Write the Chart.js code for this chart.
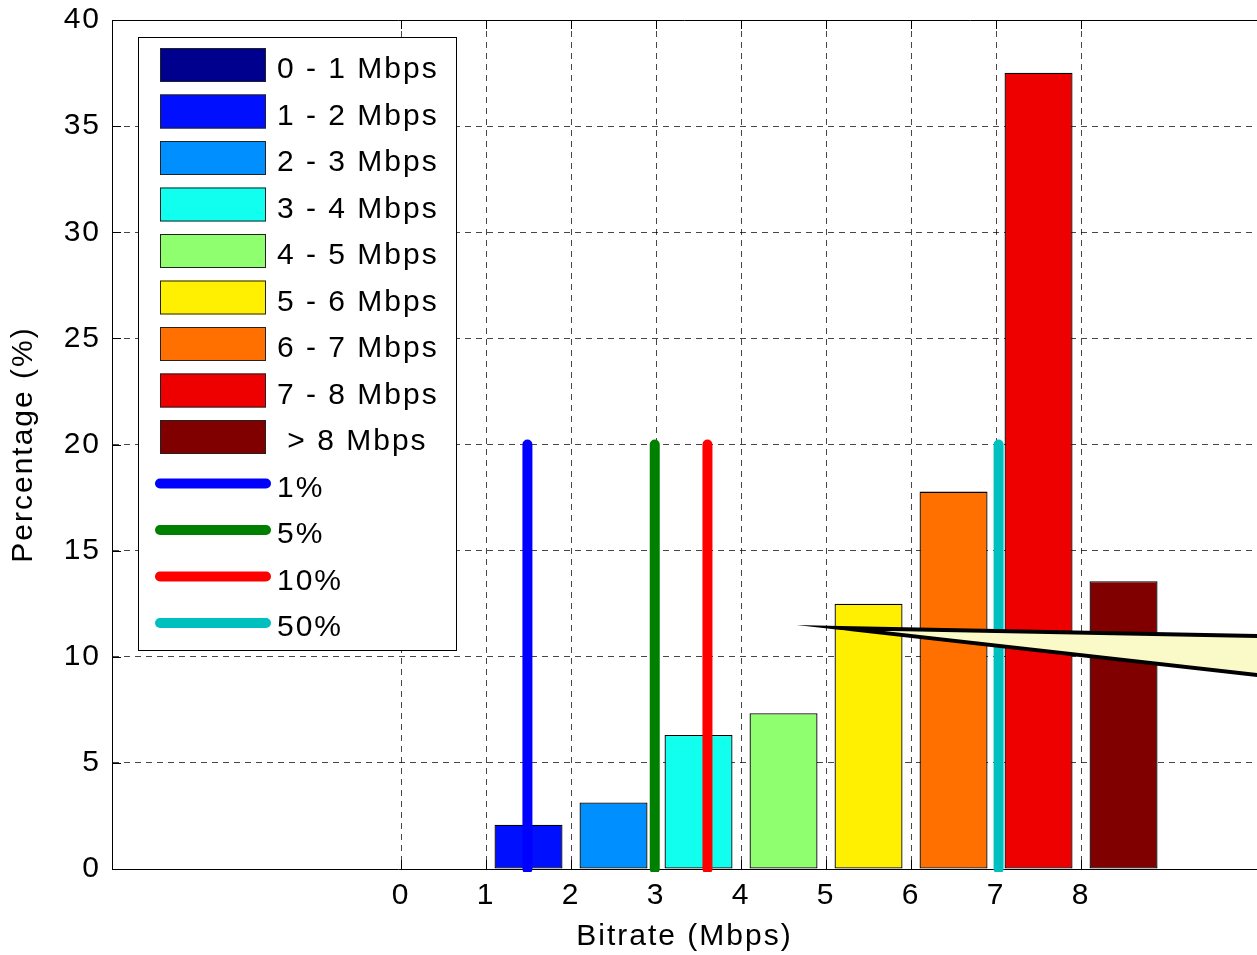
<!DOCTYPE html>
<html>
<head>
<meta charset="utf-8">
<title>Bitrate distribution</title>
<script src="https://cdn.jsdelivr.net/npm/chart.js@4.4.1/dist/chart.umd.min.js"></script>
<style>
    html, body { margin: 0; padding: 0; background: #fff; overflow: hidden; }
    #chartContainer { position: relative; width: 1257px; height: 955px; }
</style>
</head>
<body>
<div id="chartContainer"><canvas id="bitrateChart"></canvas></div>
<script>
// Histogram bins (percent of sessions per bitrate range)
const binLabels = ["0 - 1 Mbps", "1 - 2 Mbps", "2 - 3 Mbps", "3 - 4 Mbps", "4 - 5 Mbps",
    "5 - 6 Mbps", "6 - 7 Mbps", "7 - 8 Mbps", " > 8 Mbps"];
const binCenters = [0.5, 1.5, 2.5, 3.5, 4.5, 5.5, 6.5, 7.5, 8.5];
const binPercentages = [0, 2.09, 3.13, 6.31, 7.34, 12.5, 17.78, 37.52, 13.56];
const binColors = ["#00008f", "#0010ff", "#008fff", "#10ffef", "#8fff70",
    "#ffef00", "#ff7000", "#ef0000", "#800000"];

// Percentile markers (vertical lines)
const percentileLabels = ["1%", "5%", "10%", "50%"];
const percentileBitrates = [1.487, 2.985, 3.605, 7.03];
const percentileColors = ["#0000ff", "#008000", "#ff0000", "#00bfbf"];
const percentileLineTop = 20;

// Axis ticks
const xTickValues = [0, 1, 2, 3, 4, 5, 6, 7, 8];
const xRange = [-3.4, 10.07];
const yRange = [0, 40];
const yStep = 5;

// Callout wedge (data coordinates), runs off the right edge
const calloutX = [5.16, 10.6, 10.6];
const calloutY = [11.36, 10.93, 8.90];

document.addEventListener("DOMContentLoaded", () => {
    Chart.defaults.font.family = "'Liberation Sans', Arial, Helvetica, sans-serif";
    Chart.defaults.font.size = 30;
    Chart.defaults.color = "#000";

    const gridColor = "rgba(0,0,0,0.72)";

    const matlabPlugin = {
        id: "matlabStyle",
        beforeDraw(chart) {
            chart.ctx.letterSpacing = "2px";
        },
        beforeDatasetsDraw(chart) {
            const { ctx, chartArea: area, scales: { x, y } } = chart;
            ctx.save();
            ctx.strokeStyle = "#000";
            ctx.lineWidth = 1;
            ctx.beginPath();
            // top box edge
            ctx.moveTo(area.left, area.top + 0.5);
            ctx.lineTo(area.right, area.top + 0.5);
            // inward ticks
            x.ticks.forEach(t => {
                const px = Math.round(x.getPixelForValue(t.value)) + 0.5;
                ctx.moveTo(px, area.bottom);
                ctx.lineTo(px, area.bottom - 9);
                ctx.moveTo(px, area.top);
                ctx.lineTo(px, area.top + 9);
            });
            y.ticks.forEach(t => {
                const py = Math.round(y.getPixelForValue(t.value)) + 0.5;
                ctx.moveTo(area.left, py);
                ctx.lineTo(area.left + 9, py);
            });
            ctx.stroke();
            ctx.restore();
        },
        afterDatasetsDraw(chart) {
            const { ctx, scales: { x, y } } = chart;
            ctx.save();

            // callout
            ctx.beginPath();
            calloutX.forEach((v, i) => {
                const px = x.getPixelForValue(v);
                const py = y.getPixelForValue(calloutY[i]);
                if (i === 0) ctx.moveTo(px, py); else ctx.lineTo(px, py);
            });
            ctx.closePath();
            ctx.fillStyle = "#fafac8";
            ctx.fill();
            ctx.lineWidth = 4;
            ctx.lineJoin = "miter";
            ctx.miterLimit = 40;
            ctx.strokeStyle = "#000";
            ctx.stroke();

            // legend box
            const boxLeft = 138.5, boxTop = 37.5, boxRight = 456.5, boxBottom = 650.5;
            const rowTop = 65, rowStep = 46.5;
            ctx.fillStyle = "#fff";
            ctx.fillRect(boxLeft, boxTop, boxRight - boxLeft, boxBottom - boxTop);
            ctx.lineWidth = 1;
            ctx.strokeStyle = "#000";
            ctx.strokeRect(boxLeft, boxTop, boxRight - boxLeft, boxBottom - boxTop);

            ctx.font = "30px 'Liberation Sans', Arial, sans-serif";
            ctx.textAlign = "left";
            ctx.textBaseline = "alphabetic";
            binLabels.forEach((label, i) => {
                const cy = rowTop + i * rowStep;
                ctx.fillStyle = binColors[i];
                ctx.fillRect(160, cy - 17, 106, 34);
                ctx.strokeStyle = "#222";
                ctx.lineWidth = 1;
                ctx.strokeRect(160.5, cy - 16.5, 105, 33);
                ctx.fillStyle = "#000";
                ctx.fillText(label, 277, cy + 13);
            });
            percentileLabels.forEach((label, i) => {
                const cy = rowTop + (binLabels.length + i) * rowStep;
                ctx.beginPath();
                ctx.moveTo(160, cy);
                ctx.lineTo(266, cy);
                ctx.strokeStyle = percentileColors[i];
                ctx.lineWidth = 10;
                ctx.lineCap = "round";
                ctx.stroke();
                ctx.fillStyle = "#000";
                ctx.fillText(label, 277, cy + 13);
            });
            ctx.restore();
        }
    };

    const datasets = [{
        type: "bar",
        label: "Bins",
        data: binCenters.map((c, i) => ({ x: c, y: binPercentages[i] })),
        backgroundColor: binColors,
        borderColor: "#000",
        borderWidth: 1.3,
        borderSkipped: false,
        barPercentage: 0.8,
        categoryPercentage: 1,
        order: 2
    }];
    percentileBitrates.forEach((b, i) => {
        datasets.push({
            type: "line",
            label: percentileLabels[i],
            data: [{ x: b, y: 0 }, { x: b, y: percentileLineTop }],
            borderColor: percentileColors[i],
            borderWidth: 10,
            borderCapStyle: "round",
            pointRadius: 0,
            fill: false,
            clip: 3,
            order: 1
        });
    });

    new Chart(document.getElementById("bitrateChart"), {
        type: "bar",
        data: { datasets },
        options: {
            responsive: true,
            maintainAspectRatio: false,
            animation: false,
            events: [],
            layout: { padding: { top: 20, left: 0, right: 0, bottom: 0 } },
            plugins: { legend: { display: false }, tooltip: { enabled: false } },
            scales: {
                x: {
                    type: "linear",
                    min: xRange[0],
                    max: xRange[1],
                    offset: false,
                    afterBuildTicks: scale => { scale.ticks = xTickValues.map(v => ({ value: v })); },
                    afterFit: scale => {
                        scale.height = 86;
                        scale.paddingLeft = 0;
                        scale.paddingRight = 0;
                    },
                    grid: { color: gridColor, lineWidth: 1, drawTicks: false, offset: false },
                    border: { display: true, color: "#000", width: 1, dash: [6, 5] },
                    ticks: { padding: 9, maxRotation: 0, autoSkip: false },
                    title: { display: true, text: "Bitrate (Mbps)", padding: { top: 0, bottom: 0 } }
                },
                y: {
                    min: yRange[0],
                    max: yRange[1],
                    afterFit: scale => {
                        scale.width = 112;
                        scale.paddingTop = 0;
                        scale.paddingBottom = 0;
                    },
                    grid: { color: gridColor, lineWidth: 1, drawTicks: false },
                    border: { display: true, color: "#000", width: 1, dash: [6, 5] },
                    ticks: { stepSize: yStep, padding: 11 },
                    title: { display: true, text: "Percentage (%)", padding: { top: 6, bottom: 0 } }
                }
            }
        },
        plugins: [matlabPlugin]
    });
});
</script>
</body>
</html>
